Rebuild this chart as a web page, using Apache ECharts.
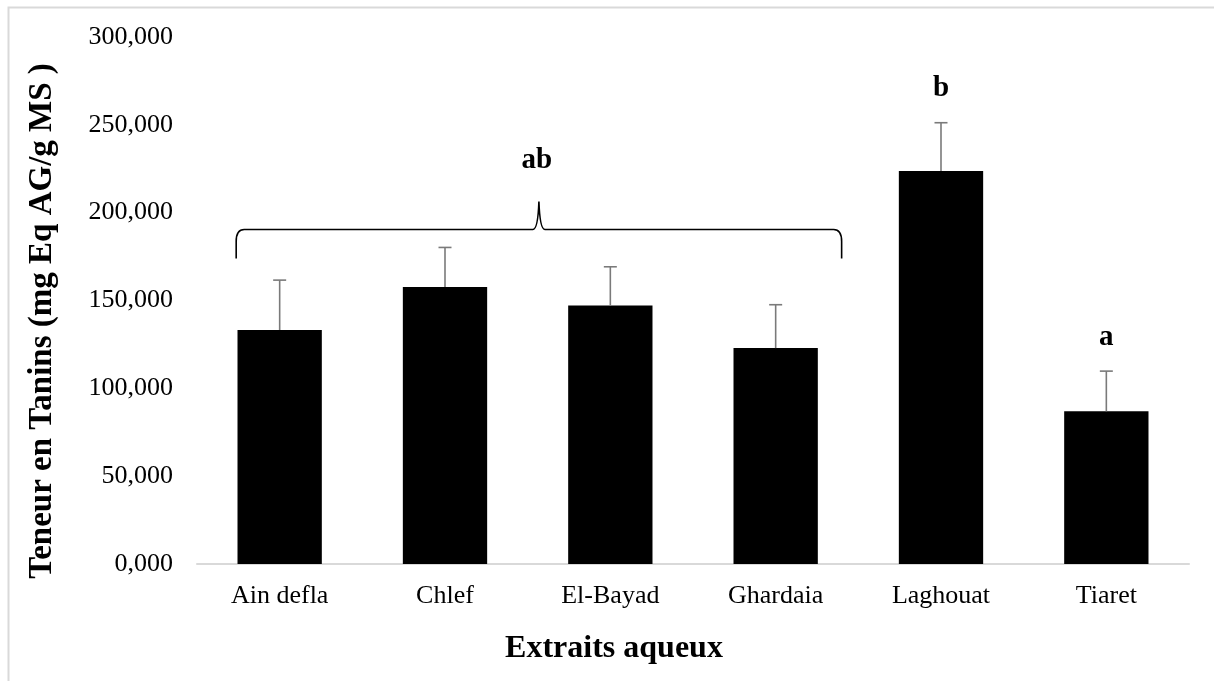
<!DOCTYPE html>
<html>
<head>
<meta charset="utf-8">
<script src="https://cdn.jsdelivr.net/npm/echarts@6/dist/echarts.min.js"></script>
<style>
html,body{margin:0;padding:0;background:#fff;}
#chart{width:1214px;height:681px;}
</style>
</head>
<body>
<div id="chart"></div>
<script>
// ---- data ----
const categories = ['Ain defla', 'Chlef', 'El-Bayad', 'Ghardaia', 'Laghouat', 'Tiaret'];
const means = [133.2, 157.7, 147.2, 122.9, 223.7, 86.9];
const errors = [28.4, 22.5, 22.0, 24.7, 27.5, 22.9];
const letters = ['ab', 'ab', 'ab', 'ab', 'b', 'a'];
const yMin = 0, yMax = 300, yStep = 50;
const yTitle = 'Teneur en Tanins (mg Eq AG/g MS )';
const xTitle = 'Extraits aqueux';

const FONT = "'Liberation Serif', 'Times New Roman', serif";

// groups of consecutive equal letters
const groups = [];
letters.forEach((l, i) => {
  const g = groups[groups.length - 1];
  if (g && g.letter === l && g.end === i - 1) g.end = i;
  else groups.push({ letter: l, start: i, end: i });
});
const groupData = groups.map(g => {
  let top = -Infinity;
  for (let i = g.start; i <= g.end; i++) top = Math.max(top, means[i] + errors[i]);
  return [g.start, g.end, top];
});

const chart = echarts.init(document.getElementById('chart'));

chart.setOption({
  animation: false,
  backgroundColor: '#fff',
  grid: { left: 197, right: 25, top: 37, bottom: 117 },
  xAxis: {
    type: 'category',
    data: categories,
    axisLine: { lineStyle: { color: '#d9d9d9', width: 2 } },
    axisTick: { show: false },
    axisLabel: { color: '#000', fontFamily: FONT, fontSize: 26, margin: 19 }
  },
  yAxis: {
    type: 'value',
    min: yMin, max: yMax, interval: yStep,
    axisLine: { show: false },
    axisTick: { show: false },
    splitLine: { show: false },
    axisLabel: {
      color: '#000', fontFamily: FONT, fontSize: 26, margin: 24,
      formatter: v => v.toFixed(3).replace('.', ',')
    }
  },
  series: [
    {
      type: 'bar',
      data: means,
      barCategoryGap: '49%',
      itemStyle: { color: '#000' },
      z: 2
    },
    {
      type: 'custom',
      data: categories.map((c, i) => [i, means[i], errors[i]]),
      encode: { x: 0, y: 1 },
      z: 3,
      renderItem: (params, api) => {
        const idx = api.value(0);
        const base = api.coord([idx, api.value(1)]);
        const top = api.coord([idx, api.value(1) + api.value(2)]);
        const x = base[0];
        const st = { stroke: '#7a7a7a', lineWidth: 1.6 };
        return {
          type: 'group',
          children: [
            { type: 'line', shape: { x1: x, y1: base[1], x2: x, y2: top[1] }, style: st },
            { type: 'line', shape: { x1: x - 6.5, y1: top[1], x2: x + 6.5, y2: top[1] }, style: st }
          ]
        };
      }
    },
    {
      type: 'custom',
      data: groupData,
      encode: { x: [0, 1], y: 2 },
      z: 4,
      renderItem: (params, api) => {
        const g = groups[params.dataIndex];
        const s = api.value(0), e = api.value(1), topV = api.value(2);
        const band = api.size([1, 0])[0];
        const ps = api.coord([s, topV]);
        const pe = api.coord([e, topV]);
        const textStyle = { fill: '#000', font: 'bold 29px ' + FONT, align: 'center', verticalAlign: 'middle' };
        if (s === e) {
          return { type: 'text', x: ps[0], y: ps[1] - 34, style: Object.assign({ text: g.letter }, textStyle) };
        }
        const L = ps[0] - 0.263 * band;
        const R = pe[0] + 0.399 * band;
        const M = (L + R) / 2;
        const hy = ps[1] - 18;
        const endY = hy + 29;
        const peakY = hy - 28;
        const path = `M${L},${endY} L${L},${hy + 12} Q${L},${hy} ${L + 8},${hy} ` +
          `L${M - 6},${hy} Q${M - 1},${hy} ${M},${peakY} Q${M + 1},${hy} ${M + 6},${hy} ` +
          `L${R - 8},${hy} Q${R},${hy} ${R},${hy + 12} L${R},${endY}`;
        return {
          type: 'group',
          children: [
            { type: 'path', shape: { pathData: path }, style: { stroke: '#000', lineWidth: 1.6, fill: null } },
            { type: 'text', x: M - 2, y: peakY - 41, style: Object.assign({ text: g.letter }, textStyle) }
          ]
        };
      }
    }
  ],
  graphic: [
    {
      type: 'rect', silent: true, z: -1,
      shape: { x: 8.5, y: 7.5, width: 1300, height: 800 },
      style: { fill: null, stroke: '#d9d9d9', lineWidth: 2 }
    },
    {
      type: 'text', x: 42, y: 321, rotation: Math.PI / 2,
      style: { text: yTitle, fill: '#000', font: 'bold 33px ' + FONT, align: 'center', verticalAlign: 'middle' }
    },
    {
      type: 'text', x: 614, y: 649,
      style: { text: xTitle, fill: '#000', font: 'bold 32px ' + FONT, align: 'center', verticalAlign: 'middle' }
    }
  ]
});
</script>
</body>
</html>
